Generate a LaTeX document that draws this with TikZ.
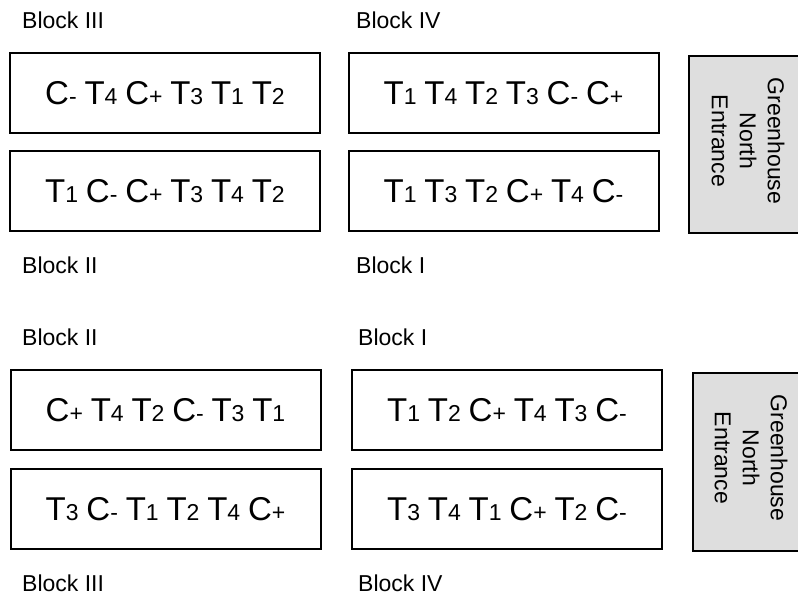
\documentclass[tikz,border=0pt]{standalone}
\usepackage{fontspec}
\setmainfont{Liberation Sans}
\definecolor{ghgray}{HTML}{DEDEDE}
\newcommand{\idx}[1]{{\fontsize{23}{23}\selectfont #1}}
\newcommand{\plotfont}{\fontsize{33}{33}\selectfont\spaceskip 7.8pt\relax}
\begin{document}
\begin{tikzpicture}[x=1pt,y=-1pt,
  plotbox/.style={draw, line width=2pt, minimum width=310pt, minimum height=80pt, inner sep=0pt, font=\plotfont},
  lbl/.style={anchor=west, inner sep=0pt, font=\fontsize{23}{23}\selectfont},
  ghbox/.style={draw, fill=ghgray, line width=2pt},
  ghtext/.style={rotate=-90, align=center, inner sep=0pt, font=\fontsize{23}{28}\selectfont}]
\useasboundingbox (0,0) rectangle (798,601);
% top layout
\node[lbl] (l1) at (22,20) {Block III};
\node[lbl] (l2) at (356,20) {Block IV};
\node[plotbox] (b1) at (165,93) {C\idx{-} T\idx{4} C\idx{+} T\idx{3} T\idx{1} T\idx{2}};
\node[plotbox] (b2) at (165,191.5) {T\idx{1} C\idx{-} C\idx{+} T\idx{3} T\idx{4} T\idx{2}};
\node[plotbox] (b3) at (503.5,93) {T\idx{1} T\idx{4} T\idx{2} T\idx{3} C\idx{-} C\idx{+}};
\node[plotbox] (b4) at (503.5,191.5) {T\idx{1} T\idx{3} T\idx{2} C\idx{+} T\idx{4} C\idx{-}};
\node[lbl] (l3) at (22,265) {Block II};
\node[lbl] (l4) at (356,265) {Block I};
\draw[ghbox] (689,56) rectangle (815,233);
\node[ghtext] (g1) at (748,141) {Greenhouse\\North\\Entrance};
% bottom layout
\node[lbl] (l5) at (22,337) {Block II};
\node[lbl] (l6) at (358,337) {Block I};
\node[plotbox] (b5) at (165.5,410) {C\idx{+} T\idx{4} T\idx{2} C\idx{-} T\idx{3} T\idx{1}};
\node[plotbox] (b6) at (165.5,509) {T\idx{3} C\idx{-} T\idx{1} T\idx{2} T\idx{4} C\idx{+}};
\node[plotbox] (b7) at (507,410) {T\idx{1} T\idx{2} C\idx{+} T\idx{4} T\idx{3} C\idx{-}};
\node[plotbox] (b8) at (507,509) {T\idx{3} T\idx{4} T\idx{1} C\idx{+} T\idx{2} C\idx{-}};
\node[lbl] (l7) at (22,583) {Block III};
\node[lbl] (l8) at (358,583) {Block IV};
\draw[ghbox] (693,373) rectangle (815,551);
\node[ghtext] (g2) at (751,458) {Greenhouse\\North\\Entrance};
\end{tikzpicture}
\end{document}
